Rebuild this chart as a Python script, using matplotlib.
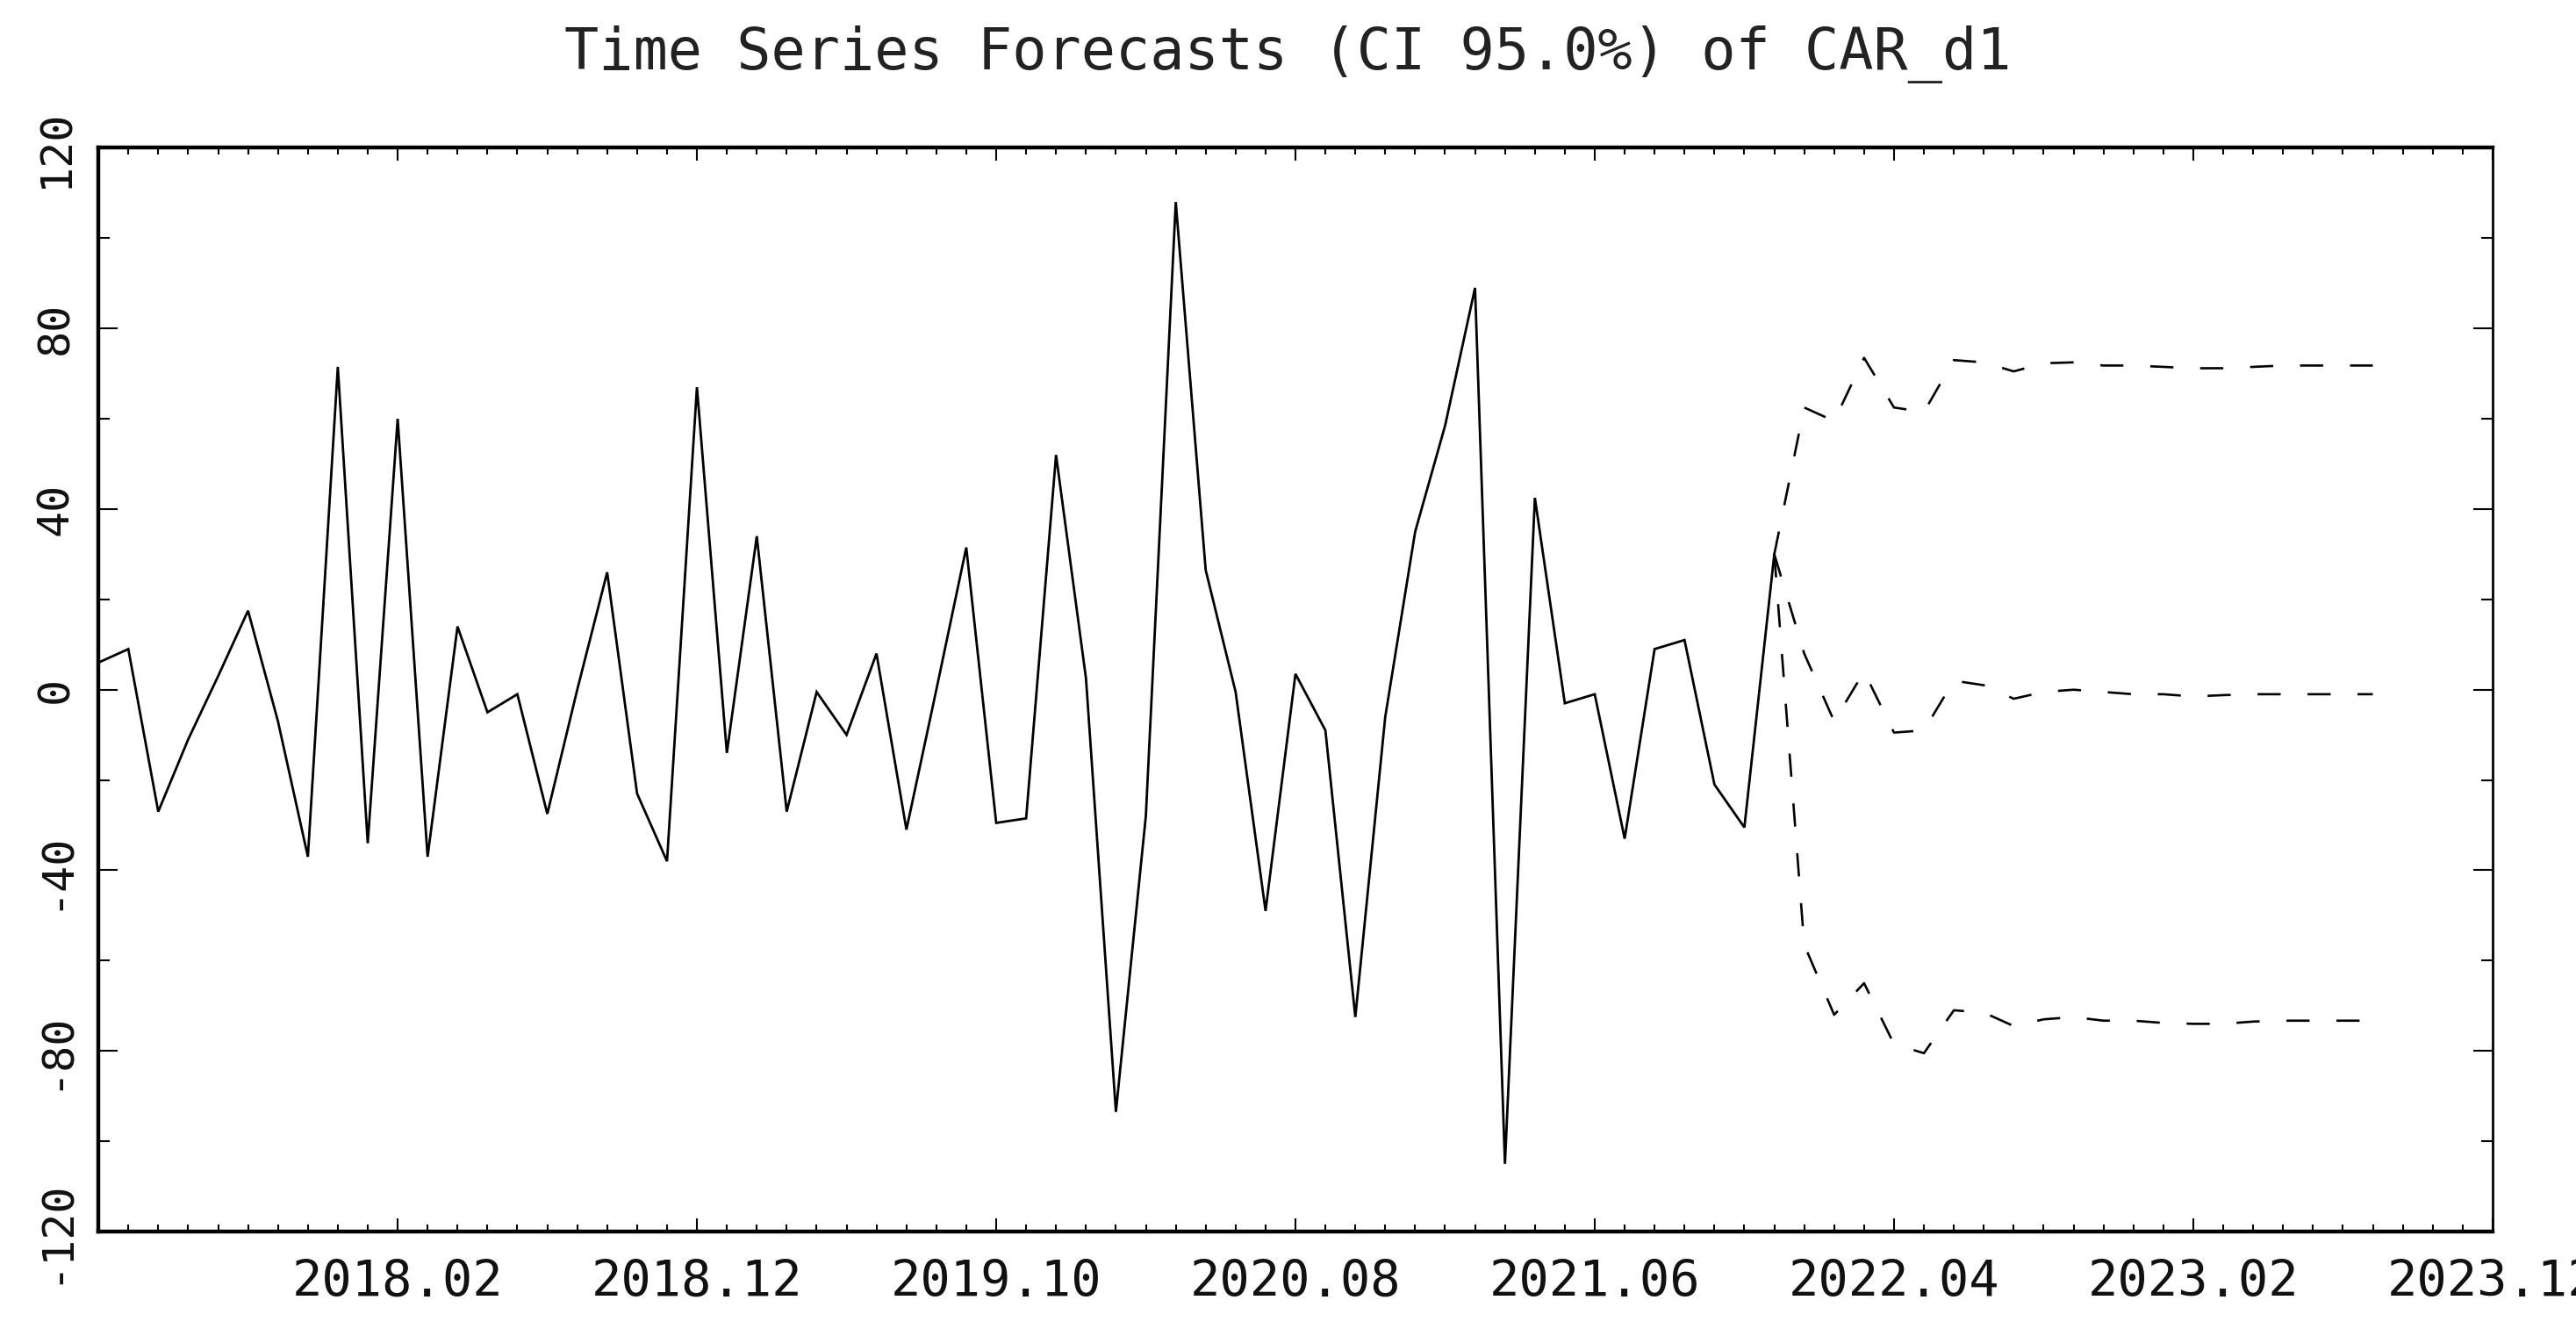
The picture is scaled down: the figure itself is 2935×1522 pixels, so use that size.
import matplotlib
matplotlib.use("Agg")
import matplotlib.pyplot as plt
import numpy as np

# ---------------- data ----------------
start_month = "2017.04"
observed = [6, 9, -27, -11, 3, 17.5, -7, -37, 71.5, -34,
            60, -37, 14, -5, -1, -27.5, 0, 26, -23, -38,
            67, -14, 34, -27, -0.5, -10, 8, -31, 0, 31.5,
            -29.5, -28.5, 52, 2.5, -93.5, -28, 108, 26.5, -0.5, -49,
            3.5, -9, -72.5, -6, 35, 58.5, 89, -105, 42.5, -3,
            -1, -33, 9, 11, -21, -30.5, 30]
forecast_mid = [30, 8, -7, 4, -9.5, -9, 2, 1, -2, -0.5,
                0, -0.5, -1, -1, -1.5, -1.2, -1, -1, -1, -1, -1]
forecast_upper = [30, 62.5, 59.5, 73.5, 62.5, 61.5, 73, 72.5, 70.5, 72.3,
                  72.5, 71.8, 71.8, 71.5, 71.2, 71.2, 71.5, 71.8, 71.8, 71.8, 71.8]
forecast_lower = [30, -56.5, -72, -65, -78.5, -80.5, -71, -71.5, -74.5, -73,
                  -72.5, -73.3, -73.3, -73.8, -74, -74, -73.5, -73.3, -73.3, -73.3, -73.3]
x_tick_labels = ["2018.02", "2018.12", "2019.10", "2020.08",
                 "2021.06", "2022.04", "2023.02", "2023.12"]
y_tick_values = [-120, -80, -40, 0, 40, 80, 120]
title = "Time Series Forecasts (CI 95.0%) of CAR_d1"


def month_index(label):
    y, m = label.split(".")
    y0, m0 = start_month.split(".")
    return (int(y) - int(y0)) * 12 + (int(m) - int(m0))


x_obs = np.arange(len(observed))
x_fc = np.arange(len(observed) - 1, len(observed) - 1 + len(forecast_mid))
x_tick_pos = [month_index(l) for l in x_tick_labels]

# ---------------- figure ----------------
plt.rcParams['lines.scale_dashes'] = False
fig = plt.figure(figsize=(29.35, 15.22), dpi=100)
ax = fig.add_axes([0.0382, 0.0782, 0.9294, 0.8111])

ax.plot(x_obs, observed, color="black", lw=2.0, solid_joinstyle="miter")
for series in (forecast_upper, forecast_mid, forecast_lower):
    ax.plot(x_fc, series, color="black", lw=1.9, linestyle=(0, (19, 22)))

ax.set_xlim(0, x_tick_pos[-1])
ax.set_ylim(min(y_tick_values), max(y_tick_values))

mono = "DejaVu Sans Mono"
ax.set_xticks(x_tick_pos)
ax.set_xticklabels(x_tick_labels, fontsize=41, family=mono, color="#111111")
ax.set_xticks(np.arange(0, x_tick_pos[-1] + 1), minor=True)
ax.set_yticks(y_tick_values)
ax.set_yticklabels([str(v) for v in y_tick_values], fontsize=36, family=mono,
                   rotation=90, va="center", color="#111111")
ax.set_yticks(np.arange(min(y_tick_values), max(y_tick_values) + 1, 20), minor=True)

ax.tick_params(axis="x", which="major", direction="in", top=True, bottom=True,
               length=11, width=1.5, pad=22)
ax.tick_params(axis="x", which="minor", direction="in", top=True, bottom=True,
               length=5.5, width=1.5)
ax.tick_params(axis="y", which="major", direction="in", left=True, right=True,
               length=16, width=1.5, pad=18)
ax.tick_params(axis="y", which="minor", direction="in", left=True, right=True,
               length=9.5, width=1.5)

for side, w in (("left", 3.2), ("bottom", 3.2), ("top", 3.2), ("right", 2.0)):
    ax.spines[side].set_linewidth(w)
    ax.spines[side].set_color("black")

fig.text(0.5, 0.959, title, ha="center", va="center", fontsize=47,
         family=mono, color="#222222")

fig.savefig("out.png", dpi=100, facecolor="white")
